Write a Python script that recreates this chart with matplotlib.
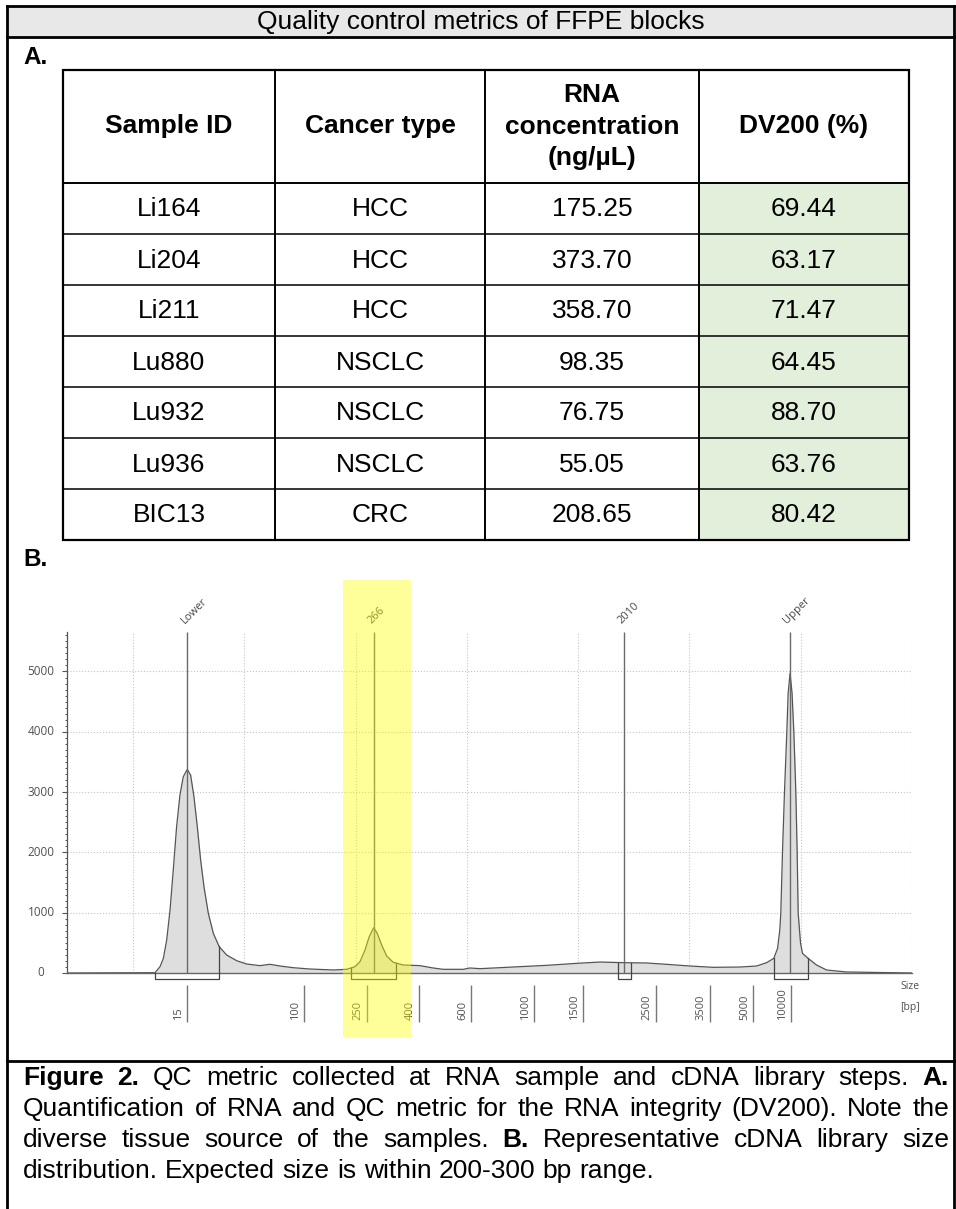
import matplotlib
matplotlib.use("Agg")
import matplotlib.pyplot as plt
from matplotlib.patches import Rectangle
from matplotlib.ticker import MultipleLocator
import numpy as np

#------ table data ------
title = "Quality control metrics of FFPE blocks"
col_headers = [["Sample ID"], ["Cancer type"], ["RNA", "concentration", "(ng/µL)"], ["DV200 (%)"]]
sample_ids = ["Li164", "Li204", "Li211", "Lu880", "Lu932", "Lu936", "BIC13"]
cancer_types = ["HCC", "HCC", "HCC", "NSCLC", "NSCLC", "NSCLC", "CRC"]
rna_conc = [175.25, 373.70, 358.70, 98.35, 76.75, 55.05, 208.65]
dv200 = [69.44, 63.17, 71.47, 64.45, 88.70, 63.76, 80.42]

#------ electropherogram (migration units vs fluorescence) ------
mig = [0.41, 1.197, 1.242, 1.272, 1.302, 1.332, 1.361, 1.391, 1.421, 1.451, 1.487,
       1.517, 1.547, 1.577, 1.607, 1.637, 1.676, 1.721, 1.774, 1.841, 1.931, 2.021,
       2.140, 2.230, 2.320, 2.439, 2.589, 2.799, 2.919, 2.994, 3.039, 3.084, 3.122,
       3.162, 3.194, 3.234, 3.279, 3.338, 3.428, 3.578, 3.697, 3.787, 3.967, 4.027,
       4.117, 4.296, 4.476, 4.716, 4.986, 5.195, 5.411, 5.615, 5.794, 6.004, 6.213,
       6.453, 6.603, 6.693, 6.758, 6.792, 6.812, 6.821, 6.836, 6.854, 6.875, 6.887,
       6.904, 6.922, 6.938, 6.956, 6.968, 6.977, 6.998, 7.016, 7.066, 7.142, 7.232,
       7.411, 7.995]
fu = [0, 5, 105, 243, 547, 1045, 1708, 2426, 2951, 3255, 3377,
      3283, 2923, 2426, 1874, 1431, 990, 658, 436, 298, 204, 149,
      122, 144, 116, 88, 66, 50, 61, 105, 188, 381, 602,
      751, 658, 464, 282, 177, 133, 122, 83, 61, 61, 83,
      72, 88, 105, 127, 160, 182, 171, 166, 144, 116, 94,
      99, 116, 171, 243, 409, 713, 1000, 2000, 3000, 4000, 4640,
      4970, 4640, 4000, 3000, 2000, 1000, 500, 326, 243, 133, 50,
      17, 0]

ladder_sizes = ["15", "100", "250", "400", "600", "1000", "1500", "2500", "3500", "5000", "10000"]
ladder_pos = [1.484, 2.535, 3.101, 3.569, 4.036, 4.602, 5.042, 5.698, 6.183, 6.570, 6.911]

peak_labels = ["Lower", "266", "2010", "Upper"]
peak_pos = [1.484, 3.164, 5.410, 6.902]
peak_start = [1.197, 2.958, 5.357, 6.758]
peak_end = [1.772, 3.362, 5.474, 7.064]

caption = ["Figure 2. QC metric collected at RNA sample and cDNA library steps. A.",
           "Quantification of RNA and QC metric for the RNA integrity (DV200). Note the",
           "diverse tissue source of the samples. B. Representative cDNA library size",
           "distribution. Expected size is within 200-300 bp range."]
bold_words = {"Figure", "2.", "A.", "B."}

#------ figure, pixel-based background axes ------
W, H = 956, 1209
fig = plt.figure(figsize=(W / 100, H / 100), dpi=100)
bg = fig.add_axes([0, 0, 1, 1])
bg.set_xlim(0, W)
bg.set_ylim(H, 0)
bg.axis("off")

ARIAL = "Liberation Sans"
CHART = "Open Sans"
FS = 19

# outer frame + title row
bg.add_patch(Rectangle((7, 6), 947, 31, facecolor="#e8e8e8", edgecolor="none"))
bg.plot([7, 954], [6, 6], color="black", lw=2)
bg.plot([7, 954], [37, 37], color="black", lw=2)
bg.plot([7, 7], [6, H], color="black", lw=2)
bg.plot([954, 954], [6, H], color="black", lw=2)
bg.plot([7, 954], [1061, 1061], color="black", lw=2)
bg.text(481, 22, title, ha="center", va="center", fontsize=FS, family=ARIAL)

bg.text(23, 58, "A.", ha="left", va="center", fontsize=17.5, fontweight="bold", family=ARIAL)
bg.text(23, 559, "B.", ha="left", va="center", fontsize=17.5, fontweight="bold", family=ARIAL)

#------ table ------
col_x = [63, 275, 485, 699, 909]
tab_top, head_bot, row_h = 70, 183, 51
n = len(sample_ids)
tab_bot = head_bot + n * row_h

for i in range(n):
    bg.add_patch(Rectangle((col_x[3], head_bot + i * row_h), col_x[4] - col_x[3], row_h,
                           facecolor="#e2efda", edgecolor="none"))

for j, lines in enumerate(col_headers):
    cx = (col_x[j] + col_x[j + 1]) / 2
    cy = (tab_top + head_bot) / 2
    for k, s in enumerate(lines):
        yy = cy + (k - (len(lines) - 1) / 2) * 31
        bg.text(cx, yy, s, ha="center", va="center", fontsize=FS, fontweight="bold", family=ARIAL)

for i in range(n):
    cy = head_bot + (i + 0.5) * row_h
    vals = [sample_ids[i], cancer_types[i], f"{rna_conc[i]:.2f}", f"{dv200[i]:.2f}"]
    for j, s in enumerate(vals):
        cx = (col_x[j] + col_x[j + 1]) / 2
        bg.text(cx, cy + 1, s, ha="center", va="center", fontsize=FS, family=ARIAL)

for i in range(1, n):
    yy = head_bot + i * row_h
    bg.plot([col_x[0], col_x[-1]], [yy, yy], color="black", lw=1.1)
bg.plot([col_x[0], col_x[-1]], [head_bot, head_bot], color="black", lw=1.4)
for xx in col_x[1:-1]:
    bg.plot([xx, xx], [tab_top, tab_bot], color="black", lw=1.4)
bg.add_patch(Rectangle((col_x[0], tab_top), col_x[-1] - col_x[0], tab_bot - tab_top,
                       facecolor="none", edgecolor="black", lw=1.6))

#------ electropherogram ------
ax = fig.add_axes([67 / W, (H - 973) / H, (912 - 67) / W, (973 - 632) / H])
ax.patch.set_visible(False)
ax.set_xlim(0.406, 7.998)
ax.set_ylim(0, 5655)

ax.set_xticks(np.arange(1, 9))
ax.set_yticks(np.arange(0, 5001, 1000))
ax.yaxis.set_minor_locator(MultipleLocator(100))
ax.tick_params(axis="x", length=0, labelbottom=False)
ax.tick_params(axis="y", which="major", length=3.6, width=0.8, color="#555555", labelleft=False)
ax.tick_params(axis="y", which="minor", length=1.8, width=0.7, color="#555555")
ax.grid(True, which="major", linestyle=":", color="#c4c4c4", lw=0.8)
for sp in ["top", "right"]:
    ax.spines[sp].set_visible(False)
ax.spines["left"].set_color("#555555")
ax.spines["left"].set_linewidth(0.9)
ax.spines["bottom"].set_color("#666666")
ax.spines["bottom"].set_linewidth(1.0)

for v in range(0, 5001, 1000):
    ax.text(-0.0308, v, str(v), transform=ax.get_yaxis_transform(), ha="center", va="center",
            fontsize=8.5, color="#505050", family=CHART)

ax.fill_between(mig, fu, 0, color="#dedede", lw=0, zorder=2)
ax.plot(mig, fu, color="#555555", lw=0.9, zorder=3)

# peak marker lines and labels
ax.vlines(peak_pos, 0, 5655, color="#6a6a6a", lw=1.0, zorder=4)
for lab, p in zip(peak_labels, peak_pos):
    ax.annotate(lab, xy=(p, 5655), xytext=(-1.8, 5.8), textcoords="offset points",
                rotation=45, rotation_mode="anchor", ha="left", va="baseline",
                fontsize=8, color="#484848", family=CHART, annotation_clip=False)

# integration brackets
for s, e in zip(peak_start, peak_end):
    ys = np.interp(s, mig, fu)
    ye = np.interp(e, mig, fu)
    ax.plot([s, s, e, e], [ys, -100, -100, ye], color="#444444", lw=0.9, clip_on=False, zorder=5)

# ladder size ticks
ax.vlines(ladder_pos, -812, -199, color="#777777", lw=1.0, clip_on=False)
for lab, p in zip(ladder_sizes, ladder_pos):
    ax.annotate(lab, xy=(p, -812), xytext=(-6.1, 1.5), textcoords="offset points",
                rotation=90, ha="center", va="bottom", fontsize=8, color="#505050",
                family=CHART, annotation_clip=False)
ax.text(7.980, -232, "Size", ha="center", va="center", fontsize=7.5, color="#505050", family=CHART)
ax.text(7.980, -564, "[bp]", ha="center", va="center", fontsize=7.5, color="#505050", family=CHART)

# expected-size highlight
ax.add_patch(Rectangle((2.886, -1061), 0.611, 7577, facecolor="#ffff00", alpha=0.4,
                       lw=0, zorder=10, clip_on=False))

#------ justified caption ------
renderer = fig.canvas.get_renderer()
x0, x1 = 23, 949
base_y = [1085, 1116, 1147, 1178]
probe_a = bg.text(0, 0, "xx", fontsize=FS, family=ARIAL)
probe_b = bg.text(0, 0, "x x", fontsize=FS, family=ARIAL)
space_w = probe_b.get_window_extent(renderer).width - probe_a.get_window_extent(renderer).width
probe_a.remove()
probe_b.remove()

for li, line in enumerate(caption):
    words = line.split(" ")
    arts = [bg.text(0, base_y[li], w, ha="left", va="baseline", fontsize=FS, family=ARIAL,
                    fontweight="bold" if w in bold_words else "normal") for w in words]
    widths = [a.get_window_extent(renderer).width for a in arts]
    if li < len(caption) - 1:
        gap = (x1 - x0 - sum(widths)) / (len(arts) - 1)
    else:
        gap = space_w
    x = x0
    for a, wd in zip(arts, widths):
        a.set_x(x)
        x += wd + gap

fig.savefig("out.png", dpi=100)
